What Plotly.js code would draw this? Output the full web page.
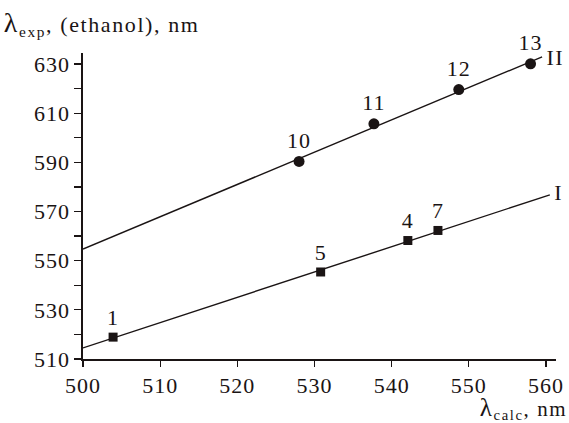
<!DOCTYPE html>
<html>
<head>
<meta charset="utf-8">
<script src="https://cdn.plot.ly/plotly-3.0.1.min.js"></script>
<style>
html,body{margin:0;padding:0;background:#fff;}
#chart{width:569px;height:423px;}
.main-svg text{letter-spacing:1px;}
.main-svg .annotation-text{letter-spacing:1.6px;}
</style>
</head>
<body>
<div id="chart"></div>
<script>
// Series I (squares)
const seriesI_x = [503.9, 530.8, 542.1, 546.0];
const seriesI_y = [518.9, 545.4, 558.2, 562.3];
const seriesI_labels = ["1", "5", "4", "7"];
// Series II (circles)
const seriesII_x = [528.0, 537.7, 548.7, 558.0];
const seriesII_y = [590.4, 605.7, 619.6, 630.1];
const seriesII_labels = ["10", "11", "12", "13"];
// Fit lines
const fitI_x = [500, 560.5];
const fitI_y = [514.5, 576.8];
const fitII_x = [500, 559.5];
const fitII_y = [554.75, 632.9];
const lineNames = ["I", "II"];
// Ticks
const xTickVals = [500, 510, 520, 530, 540, 550, 560];
const yTickVals = [510, 520, 530, 540, 550, 560, 570, 580, 590, 600, 610, 620, 630];
const yTickText = ["510", "", "530", "", "550", "", "570", "", "590", "", "610", "", "630"];

const FONT = "'Liberation Serif', serif";
const INK = "#1a1414";

const traces = [
  {x: fitI_x, y: fitI_y, mode: "lines", line: {color: INK, width: 1.4}, hoverinfo: "skip", cliponaxis: false},
  {x: fitII_x, y: fitII_y, mode: "lines", line: {color: INK, width: 1.4}, hoverinfo: "skip", cliponaxis: false},
  {x: seriesI_x, y: seriesI_y, mode: "markers+text", text: seriesI_labels, textposition: "top center",
   textfont: {family: FONT, size: 22, color: INK},
   marker: {symbol: "square", size: 9, color: INK}, cliponaxis: false},
  {x: seriesII_x, y: seriesII_y, mode: "markers+text", text: seriesII_labels, textposition: "top center",
   textfont: {family: FONT, size: 22, color: INK},
   marker: {symbol: "circle", size: 11, color: INK}, cliponaxis: false}
];

const layout = {
  width: 569, height: 423,
  margin: {l: 83, r: 13, t: 53, b: 64},
  paper_bgcolor: "#fff", plot_bgcolor: "#fff",
  showlegend: false,
  font: {family: FONT, size: 22, color: INK},
  xaxis: {
    range: [500, 561.3], tickvals: xTickVals, ticks: "outside", ticklen: 6, tickwidth: 1.3, tickcolor: INK,
    showline: true, linecolor: INK, linewidth: 1.6, showgrid: false, zeroline: false,
    tickfont: {family: FONT, size: 22, color: INK}, fixedrange: true
  },
  yaxis: {
    range: [510, 634.5], tickvals: yTickVals, ticktext: yTickText, ticks: "outside", ticklen: 7, tickwidth: 1.3, tickcolor: INK,
    showline: true, linecolor: INK, linewidth: 1.6, showgrid: false, zeroline: false,
    tickfont: {family: FONT, size: 22, color: INK}, fixedrange: true
  },
  annotations: [
    {xref: "paper", yref: "paper", x: -0.14, y: 1.095, xanchor: "left", yanchor: "middle", showarrow: false,
     text: "<span style='font-size:28px'>λ</span><sub>exp</sub>, (ethanol), nm", font: {family: FONT, size: 22, color: INK}},
    {xref: "paper", yref: "paper", x: 1.013, y: -0.162, xanchor: "right", yanchor: "middle", showarrow: false,
     text: "<span style='font-size:25px'>λ</span><sub>calc</sub>, nm", font: {family: FONT, size: 21, color: INK}},
    {x: fitI_x[1], y: fitI_y[1], xanchor: "left", yanchor: "middle", xshift: 3, yshift: 2, showarrow: false,
     text: lineNames[0], font: {family: FONT, size: 22, color: INK}},
    {x: fitII_x[1], y: fitII_y[1], xanchor: "left", yanchor: "middle", xshift: 4, yshift: -1, showarrow: false,
     text: lineNames[1], font: {family: FONT, size: 22, color: INK}}
  ]
};

Plotly.newPlot("chart", traces, layout, {staticPlot: true, displayModeBar: false});
</script>
</body>
</html>
